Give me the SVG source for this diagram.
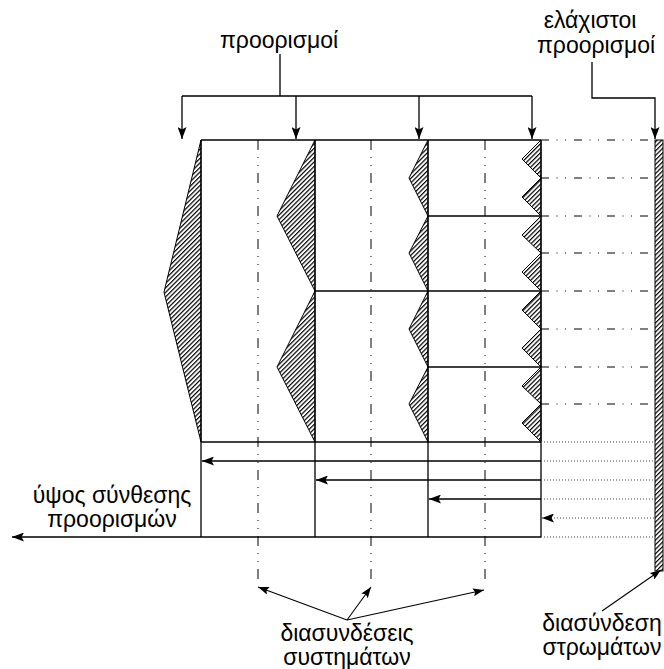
<svg xmlns="http://www.w3.org/2000/svg" width="664" height="669" viewBox="0 0 664 669">
  <style>
    .lbl { font-family: "Liberation Sans", Arial, sans-serif; font-size: 23px; fill: #000; text-anchor: middle; }
    .edge { fill: none; stroke: #000; stroke-width: 1.3; }
    .thin { fill: none; stroke: #000; stroke-width: 1.1; }
    .hat { fill: url(#hatch); stroke: #000; stroke-width: 1; }
    .axis { fill: none; stroke: #000; stroke-width: 1; stroke-dasharray: 10 7 1 7 1 7; }
    .dashdot { fill: none; stroke: #000; stroke-width: 1; stroke-dasharray: 8 7.5 1 7.5 1 8; }
    .dots { fill: none; stroke: #444; stroke-width: 1; stroke-dasharray: 1 2; }
  </style>
  <defs>
    <!-- diagonal hatching for the material profiles -->
    <pattern id="hatch" width="3.2" height="3.2" patternUnits="userSpaceOnUse" patternTransform="rotate(45)">
      <line x1="0.6" y1="0" x2="0.6" y2="3.2" stroke="#000" stroke-width="1.2"/>
    </pattern>
    <marker id="ah" viewBox="0 0 12 9" refX="12" refY="4.5" markerWidth="12" markerHeight="9" orient="auto" markerUnits="userSpaceOnUse">
      <path d="M0,0 L12,4.5 L0,9 L2.5,4.5 z" fill="#000"/>
    </marker>
    <marker id="ahs" viewBox="0 0 11 8" refX="11" refY="4" markerWidth="11" markerHeight="8" orient="auto" markerUnits="userSpaceOnUse">
      <path d="M0,0 L11,4 L0,8 L2,4 z" fill="#000"/>
    </marker>
  </defs>

  <!-- outer hatched profile on the left edge -->
  <g id="profile-left">
    <polygon class="hat" points="201,140 164,292 201,442"/>
  </g>

  <!-- column 1 -->
  <g id="col1">
    <polygon class="hat" points="315,140 277,216 315,291"/>
    <polygon class="hat" points="315,291 277,367 315,442"/>
  </g>

  <!-- column 2 -->
  <g id="col2">
    <polygon class="hat" points="428,140 409,178 428,216"/>
    <polygon class="hat" points="428,216 409,253 428,291"/>
    <polygon class="hat" points="428,291 409,329 428,367"/>
    <polygon class="hat" points="428,367 409,404 428,442"/>
    <line class="edge" x1="315" y1="291" x2="428" y2="291"/>
  </g>

  <!-- column 3 -->
  <g id="col3">
    <polygon class="hat" points="541,140 522,159 541,178"/>
    <polygon class="hat" points="541,178 522,197 541,216"/>
    <polygon class="hat" points="541,216 522,235 541,253"/>
    <polygon class="hat" points="541,253 522,272 541,291"/>
    <polygon class="hat" points="541,291 522,310 541,329"/>
    <polygon class="hat" points="541,329 522,348 541,367"/>
    <polygon class="hat" points="541,367 522,386 541,404"/>
    <polygon class="hat" points="541,404 522,423 541,442"/>
    <line class="edge" x1="428" y1="216" x2="541" y2="216"/>
    <line class="edge" x1="428" y1="291" x2="541" y2="291"/>
    <line class="edge" x1="428" y1="367" x2="541" y2="367"/>
  </g>

  <!-- frame of the three columns and the lower band -->
  <g id="frame">
    <line class="edge" x1="201" y1="140" x2="541" y2="140"/>
    <line class="edge" x1="201" y1="442" x2="541" y2="442"/>
    <line class="edge" x1="201" y1="140" x2="201" y2="537" stroke-width="1.8"/>
    <line class="edge" x1="315" y1="140" x2="315" y2="537"/>
    <line class="edge" x1="428" y1="140" x2="428" y2="537"/>
    <line class="edge" x1="541" y1="140" x2="541" y2="537"/>
  </g>

  <!-- column axes -->
  <g id="axes">
    <line class="axis" x1="258" y1="140" x2="258" y2="586"/>
    <line class="axis" x1="371" y1="140" x2="371" y2="586"/>
    <line class="axis" x1="485" y1="140" x2="485" y2="586"/>
  </g>

  <!-- layer strip on the right -->
  <g id="strip">
    <rect class="hat" x="655" y="140" width="8" height="431"/>
  </g>

  <!-- level lines between the columns and the strip -->
  <g id="levels">
    <line class="dashdot" x1="541" y1="140" x2="654" y2="140"/>
    <line class="dashdot" x1="541" y1="178" x2="654" y2="178"/>
    <line class="dashdot" x1="541" y1="216" x2="654" y2="216"/>
    <line class="dashdot" x1="541" y1="253" x2="654" y2="253"/>
    <line class="dashdot" x1="541" y1="291" x2="654" y2="291"/>
    <line class="dashdot" x1="541" y1="329" x2="654" y2="329"/>
    <line class="dashdot" x1="541" y1="367" x2="654" y2="367"/>
    <line class="dashdot" x1="541" y1="404" x2="654" y2="404"/>
    <line class="dots" x1="541" y1="442" x2="654" y2="442"/>
    <line class="dots" x1="541" y1="461" x2="654" y2="461"/>
    <line class="dots" x1="541" y1="480" x2="654" y2="480"/>
    <line class="dots" x1="541" y1="499" x2="654" y2="499"/>
    <line class="dots" x1="541" y1="537" x2="654" y2="537"/>
  </g>

  <!-- connectors -->
  <g id="connectors">
    <path class="edge" d="M280,54 V96 M182,96 H532"/>
    <path class="edge" d="M182,96 V139" marker-end="url(#ah)"/>
    <path class="edge" d="M296,96 V139" marker-end="url(#ah)"/>
    <path class="edge" d="M419,96 V139" marker-end="url(#ah)"/>
    <path class="edge" d="M532,96 V139" marker-end="url(#ah)"/>
    <path class="edge" d="M592,62 V98 H655 V139" marker-end="url(#ah)"/>

    <path class="edge" d="M541,461 H202" marker-end="url(#ah)"/>
    <path class="edge" d="M541,480 H316" marker-end="url(#ah)"/>
    <path class="edge" d="M541,499 H429" marker-end="url(#ah)"/>
    <path class="dots" d="M654,518 H542" marker-end="url(#ah)"/>
    <path class="edge" d="M541,537 H12" marker-end="url(#ah)"/>

    <path class="thin" d="M347,620 L258,587" marker-end="url(#ahs)"/>
    <path class="thin" d="M347,620 L371,587" marker-end="url(#ahs)"/>
    <path class="thin" d="M347,620 L484,590" marker-end="url(#ahs)"/>
    <path class="thin" d="M602,611 L661,570" marker-end="url(#ahs)"/>
  </g>

  <!-- labels -->
  <g id="labels">
    <text class="lbl" x="279" y="48">προορισμοί</text>
    <text class="lbl" x="590" y="28">ελάχιστοι</text>
    <text class="lbl" x="596" y="53">προορισμοί</text>
    <text class="lbl" x="112" y="503">ύψος σύνθεσης</text>
    <text class="lbl" x="112" y="527">προορισμών</text>
    <text class="lbl" x="347" y="641">διασυνδέσεις</text>
    <text class="lbl" x="347" y="665">συστημάτων</text>
    <text class="lbl" x="602" y="631">διασύνδεση</text>
    <text class="lbl" x="602" y="655">στρωμάτων</text>
  </g>
</svg>
